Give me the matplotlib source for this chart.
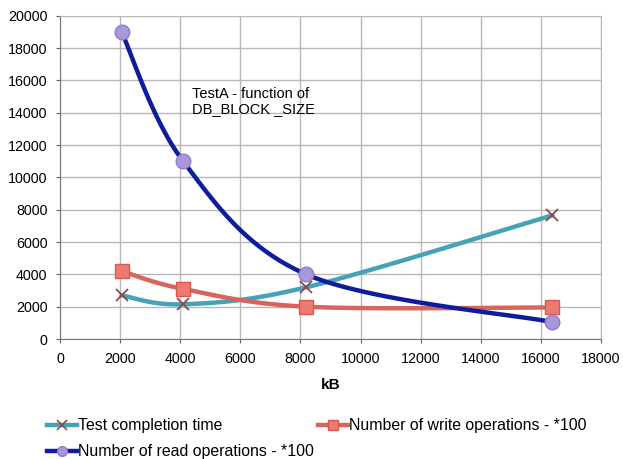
import numpy as np
import matplotlib
matplotlib.use("Agg")
import matplotlib.pyplot as plt
from matplotlib.lines import Line2D

plt.rcParams["font.family"] = ["Liberation Sans", "DejaVu Sans"]

block_kb = [2048, 4096, 8192, 16384]
completion_time = [2700, 2150, 3200, 7650]
write_ops = [4200, 3100, 2000, 1950]
read_ops = [19000, 11000, 4000, 1050]

x_ticks = list(range(0, 18001, 2000))
y_ticks = list(range(0, 20001, 2000))


def smooth(xs, ys, n=40):
    # Excel-style smoothing: cubic Bezier with Catmull-Rom control points
    xs = np.asarray(xs, float); ys = np.asarray(ys, float)
    P = np.column_stack([xs, ys])
    out = []
    for i in range(len(P) - 1):
        p0 = P[i - 1] if i > 0 else P[i]
        p1 = P[i]; p2 = P[i + 1]
        p3 = P[i + 2] if i + 2 < len(P) else P[i + 1]
        c1 = p1 + (p2 - p0) / 6.0
        c2 = p2 - (p3 - p1) / 6.0
        t = np.linspace(0, 1, n)[:, None]
        seg = ((1 - t) ** 3) * p1 + 3 * ((1 - t) ** 2) * t * c1 + 3 * (1 - t) * t ** 2 * c2 + t ** 3 * p2
        out.append(seg if i == 0 else seg[1:])
    S = np.vstack(out)
    return S[:, 0], S[:, 1]


fig = plt.figure(figsize=(6.23, 4.59), dpi=100)
ax = fig.add_axes([0.0963, 0.2614, 0.8684, 0.7044])

teal = "#45a3b5"
red = "#d6665d"
navy = "#0d1d9c"

sx, sy = smooth(block_kb, completion_time)
ax.plot(sx, sy, color=teal, lw=3.2, zorder=3, solid_capstyle="round")
ax.plot(block_kb, completion_time, ls="none", marker="x", ms=9, mew=1.3, color="#8a4b4b", zorder=4)

sx, sy = smooth(block_kb, write_ops)
ax.plot(sx, sy, color=red, lw=3.2, zorder=3, solid_capstyle="round")
ax.plot(block_kb, write_ops, ls="none", marker="s", ms=9.5, mfc="#ec7a70", mec="#d65a52", mew=1, zorder=4)

sx, sy = smooth(block_kb, read_ops)
ax.plot(sx, sy, color=navy, lw=3.2, zorder=3, solid_capstyle="round")
ax.plot(block_kb, read_ops, ls="none", marker="o", ms=10.5, mfc="#a898da", mec="#8d7cc6", mew=1, zorder=5)

ax.set_xlim(0, 18000)
ax.set_ylim(0, 20000)
ax.set_xticks(x_ticks)
ax.set_yticks(y_ticks)
ax.tick_params(labelsize=10.3, length=3, color="#666666", direction="out", pad=6)
ax.grid(True, color="#b8b8b8", lw=1)
ax.set_axisbelow(True)
for s in ["top", "right"]:
    ax.spines[s].set_color("#b8b8b8")
for s in ["left", "bottom"]:
    ax.spines[s].set_color("#777777")

ax.set_xlabel("kB", fontsize=11, fontweight="bold", labelpad=9)

ax.text(4400, 15600, "TestA - function of\nDB_BLOCK _SIZE", fontsize=10.5, va="top", ha="left", linespacing=1.15)

h_time = Line2D([], [], color=teal, lw=3.2, marker="x", ms=7, mew=1.2, mec="#8a4b4b")
h_write = Line2D([], [], color=red, lw=3.2, marker="s", ms=7, mfc="#ec7a70", mec="#d65a52")
h_read = Line2D([], [], color=navy, lw=3.2, marker="o", ms=7, mfc="#a898da", mec="#8d7cc6")
handles = [h_time, h_read, h_write]
labels = ["Test completion time", "Number of read operations - *100", "Number of write operations - *100"]
fig.legend(handles, labels, loc="upper left", bbox_to_anchor=(0.0754, 0.0887), ncol=2,
           frameon=False, fontsize=11.4, handlelength=1.9, handletextpad=0.05,
           columnspacing=0.25, labelspacing=0.68, borderpad=0, borderaxespad=0)

fig.savefig("out.png", dpi=100)
